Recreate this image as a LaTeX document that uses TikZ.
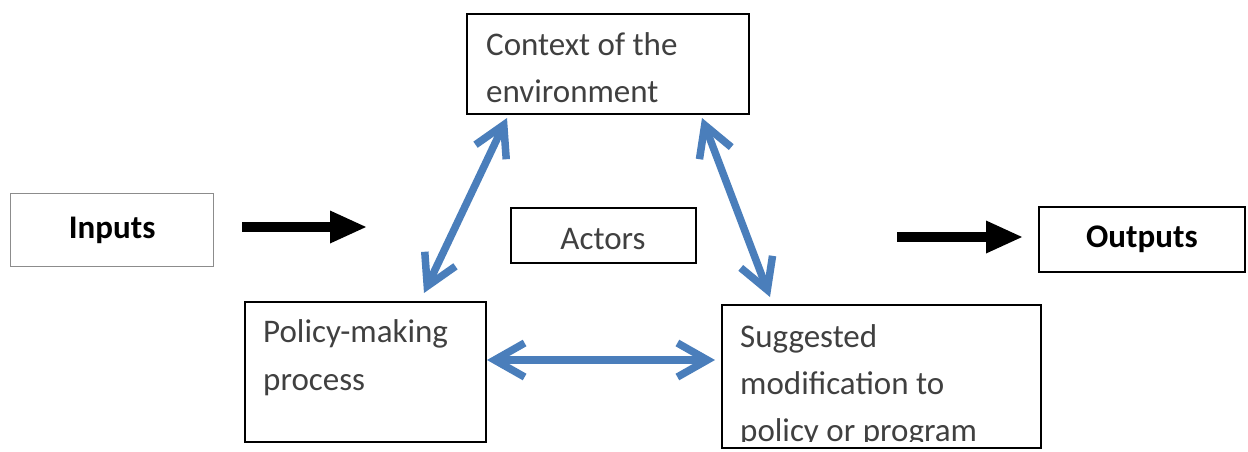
\documentclass[tikz,border=0pt]{standalone}
\usepackage{fontspec}
\setmainfont{Carlito}
\usetikzlibrary{arrows.meta}
\definecolor{txtgray}{HTML}{404040}
\definecolor{linkblue}{HTML}{4A7EBB}
\definecolor{framegray}{HTML}{8C8C8C}
\begin{document}
\begin{tikzpicture}[x=1pt,y=-1pt,
  box/.style={draw=black,line width=1.8pt,minimum width=#1,inner sep=0pt,anchor=north west},
  body/.style={font=\fontsize{33}{47}\selectfont,text=txtgray,inner sep=0pt,anchor=base west},
  heading/.style={font=\fontsize{33}{47}\selectfont\bfseries,text=black,inner sep=0pt},
  flow/.style={line width=10pt,-{Triangle[length=36pt,width=33pt,line width=0pt]}},
  link/.style={draw=linkblue,line width=7.5pt,
    {Straight Barb[length=30pt,width=34pt]}-{Straight Barb[length=30pt,width=34pt]}}]
\useasboundingbox (0,0) rectangle (1248,451);

% frames
\node[box=203pt,minimum height=73pt,draw=framegray,line width=1.2pt] (inputs) at (10,193) {};
\node[box=282pt,minimum height=100pt] (ctx) at (466,13) {};
\node[box=185pt,minimum height=55pt] (actors) at (510,207) {};
\node[box=206pt,minimum height=65pt] (outputs) at (1038,206) {};
\node[box=241pt,minimum height=140pt] (policy) at (244,301) {};
\node[box=319pt,minimum height=143pt] (modif) at (721,304) {};

% labels
\node[heading] (inputsT) at (inputs.center) {Inputs};
\node[heading] (outputsT) at (outputs.center) {Outputs};
\node[body,anchor=base] (actorsT) at (603,249) {Actors};
\node[body] (ctxA) at (486,55) {Context of the};
\node[body] (ctxB) at (486,102) {environment};
\node[body] (polA) at (263,342) {Policy-making};
\node[body] (polB) at (263,390) {process};
\begin{scope}
  % the last line runs past the frame and is cut off
  \clip (721,304) rectangle (1040,441);
  \node[body] (modA) at (740,347) {Suggested};
  \node[body] (modB) at (740,394) {modification to};
  \node[body] (modC) at (740,441) {policy or program};
\end{scope}

% arrow end points
\coordinate (inS) at (242,227);
\coordinate (inE) at (366,227);
\coordinate (outS) at (897,237);
\coordinate (outE) at (1022,237);
\coordinate (polTop) at (424,293);
\coordinate (ctxL) at (507,118);
\coordinate (ctxR) at (702,118);
\coordinate (modTop) at (770,297);
\coordinate (polR) at (487,360);
\coordinate (modL) at (715,360);

% connectors
\draw[flow] (inS) -- (inE);
\draw[flow] (outS) -- (outE);
\draw[link] (polTop) -- (ctxL);
\draw[link] (ctxR) -- (modTop);
\draw[link] (polR) -- (modL);
\end{tikzpicture}
\end{document}
